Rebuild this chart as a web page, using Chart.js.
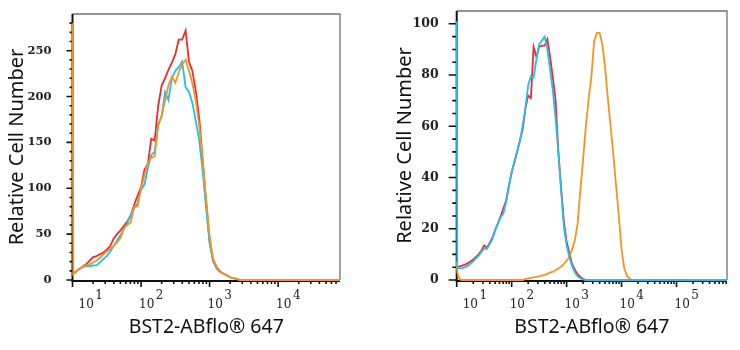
<!DOCTYPE html>
<html><head><meta charset="utf-8">
<script src="https://cdn.jsdelivr.net/npm/chart.js@4/dist/chart.umd.min.js"></script>
<style>
html,body{margin:0;padding:0;background:#fff;}
#wrap{position:relative;width:740px;height:350px;overflow:hidden;}
canvas{position:absolute;top:0;}
</style></head><body>
<div id="wrap">
<canvas id="leftChart" width="370" height="350" style="left:0"></canvas>
<canvas id="rightChart" width="370" height="350" style="left:370px"></canvas>
</div>
<script>
// ---------- DATA ----------
const xLeft = [10, 10.3, 11.2, 12.6, 14.1, 15.8, 17.8, 20, 22.4, 25.1, 28.2, 31.6, 35.5, 39.8, 44.7, 50.1, 56.2, 63.1, 70.8, 79.4, 89.1,
  100, 112, 126, 141, 158, 178, 200, 224, 251, 282, 316, 355, 398, 447, 501, 562, 631, 708, 794, 891,
  1000, 1122, 1259, 1413, 1585, 1778, 1995, 2239, 2512, 2818, 3162, 10000, 80000];
const leftRed = [6, 7, 9, 12, 15, 17, 21, 25, 26, 28, 30, 33, 37, 45, 50, 54, 59, 64, 70, 82, 92,
  101, 120, 127, 154, 152, 190, 212, 220, 229, 237, 246, 262, 262, 272, 238, 228, 205, 176, 130, 85,
  42, 21, 13, 9, 7, 5, 3, 2, 1, 0, 0, 0, 0];
const leftCyan = [6, 7, 9, 12, 14, 15, 15, 16, 16, 19, 23, 26, 31, 37, 43, 49, 56, 62, 71, 78, 84,
  98, 104, 122, 136, 140, 170, 178, 205, 196, 220, 228, 232, 238, 210, 205, 193, 173, 152, 118, 78,
  40, 22, 14, 10, 7, 5, 3, 2, 1, 0, 0, 0, 0];
const leftOrange = [280, 6, 9, 12, 15, 16, 17, 19, 21, 24, 28, 31, 34, 37, 41, 46, 56, 60, 63, 80, 80,
  100, 114, 128, 133, 135, 168, 180, 195, 212, 222, 215, 226, 235, 240, 228, 214, 195, 168, 130, 88,
  48, 24, 15, 10, 7, 5, 3, 2, 1, 0, 0, 0, 0];

const xRight = [10, 10.25, 11.2, 12.6, 14.1, 15.8, 17.8, 20, 22.4, 25.1, 28.2, 31.6, 35.5, 39.8, 44.7, 50.1, 56.2, 63.1, 70.8, 79.4, 89.1,
  100, 112, 126, 141, 158, 178, 200, 224, 251, 282, 316, 355, 398, 447, 501, 562, 631, 708, 794, 891,
  1000, 1122, 1259, 1413, 1585, 1778, 1995, 2239, 2512, 2818, 3162, 3548, 3981, 4467, 5012, 5623, 6310, 7079, 7943, 8913,
  10000, 11220, 12589, 14125, 15849, 17783, 19953, 100000, 830000];
const rightRed = [5, 5, 5.3, 5.6, 6, 6.5, 7.2, 8, 9, 10, 11.5, 13.5, 12.5, 14.5, 16.5, 19.5, 22, 25, 28, 31, 37,
  42, 46, 50, 54.5, 58.5, 67, 72, 71, 91, 87, 91, 91.5, 91.5, 94, 87, 79, 70, 50, 36, 23,
  15, 10.5, 6.3, 4, 2.3, 1.2, 0.5, 0, 0, 0, 0, 0, 0, 0, 0, 0, 0, 0, 0, 0,
  0, 0, 0, 0, 0, 0, 0, 0, 0];
const rightCyan = [101, 4.5, 4.5, 4.6, 5, 5.5, 6.3, 7.3, 8.5, 9.5, 11, 12.3, 12.2, 14, 16, 19.5, 22, 24.5, 26, 30.5, 36.5,
  42, 46, 50.5, 54, 60, 67, 76, 79.5, 79, 86, 92, 93.5, 95, 90, 82, 74, 63, 50, 35, 21,
  13.5, 9, 5.5, 3, 1.5, 0.6, 0.2, 0, 0, 0, 0, 0, 0, 0, 0, 0, 0, 0, 0, 0,
  0, 0, 0, 0, 0, 0, 0, 0, 0];
const rightOrange = [7, 3, 0.3, 0, 0, 0, 0, 0, 0, 0, 0, 0, 0, 0, 0, 0, 0, 0, 0, 0, 0,
  0, 0, 0, 0, 0, 0.3, 0.6, 0.8, 1.0, 1.2, 1.4, 1.7, 2.0, 2.4, 2.9, 3.3, 3.8, 4.5, 5.2, 6.2,
  7.5, 9, 12, 15.5, 22, 35, 47, 60, 70.5, 79, 93, 96.5, 96.5, 92, 83, 71, 60, 49, 37, 25,
  12, 4.5, 1.5, 0.5, 0, 0, 0, 0, 0];

const xTicksLeft = [10, 100, 1000, 10000];
const xExpLeft = ['1', '2', '3', '4'];
const yTicksLeft = [0, 50, 100, 150, 200, 250];
const xTicksRight = [10, 100, 1000, 10000, 100000];
const xExpRight = ['1', '2', '3', '4', '5'];
const yTicksRight = [0, 20, 40, 60, 80, 100];

const xTitle = 'BST2-ABflo\u00AE 647';
const yTitle = 'Relative Cell Number';

const RED = '#ef2a2f', CYAN = '#1fc0ee', ORANGE = '#f7941f';

// ---------- HELPERS ----------
function pts(xs, ys) { return xs.map((v, i) => ({x: v, y: ys[i]})); }

function minorLog(min, max) {
  const out = [];
  for (let d = 1; d <= 1e6; d *= 10) for (let m = 2; m <= 9; m++) { const v = m * d; if (v > min && v < max) out.push(v); }
  return out;
}
function minorLin(step, max, majors) {
  const out = [];
  for (let v = step; v < max - 0.001; v += step) if (!majors.includes(v)) out.push(v);
  return out;
}

const framePlugin = {
  id: 'frame',
  beforeDatasetsDraw(chart, args, o) {
    const {ctx, chartArea: a, scales: {x, y}} = chart;
    ctx.save();
    ctx.lineCap = 'butt';
    ctx.strokeStyle = '#707070'; ctx.lineWidth = 1.3;
    ctx.beginPath(); ctx.moveTo(a.left, a.top); ctx.lineTo(a.right, a.top); ctx.lineTo(a.right, a.bottom); ctx.stroke();
    ctx.strokeStyle = '#111'; ctx.lineWidth = 2;
    ctx.beginPath(); ctx.moveTo(a.left, a.top); ctx.lineTo(a.left, a.bottom + 1); ctx.lineTo(a.right, a.bottom + 1); ctx.stroke();
    ctx.lineWidth = 1.6;
    ctx.beginPath();
    o.xMajor.forEach(v => { const p = x.getPixelForValue(v); ctx.moveTo(p, a.bottom); ctx.lineTo(p, a.bottom + o.xMajLen); });
    o.xMinor.forEach(v => { const p = x.getPixelForValue(v); ctx.moveTo(p, a.bottom); ctx.lineTo(p, a.bottom + o.xMinLen); });
    o.yMajor.forEach(v => { const p = y.getPixelForValue(v); ctx.moveTo(a.left, p); ctx.lineTo(a.left - o.yMajLen, p); });
    o.yMinor.forEach(v => { const p = y.getPixelForValue(v); ctx.moveTo(a.left, p); ctx.lineTo(a.left - o.yMinLen, p); });
    ctx.stroke();
    // x tick labels: 10 with raised exponent
    ctx.fillStyle = '#222';
    ctx.font = '12px "DejaVu Serif"';
    ctx.textAlign = 'left'; ctx.textBaseline = 'alphabetic';
    o.xMajor.forEach((v, i) => {
      const p = x.getPixelForValue(v);
      const lx = Math.max(p - 2, a.left + 6);
      ctx.fillText('10', lx, a.bottom + 28);
      const w = ctx.measureText('10').width;
      ctx.fillText(o.xExp[i], lx + w + 1.5, a.bottom + 19);
    });
    ctx.restore();
  }
};

function makeChart(id, cfg) {
  return new Chart(document.getElementById(id), {
    type: 'line',
    data: {
      datasets: cfg.series.map(s => ({
        data: pts(cfg.xs, s.ys), borderColor: s.color, borderWidth: 1.8,
        pointRadius: 0, tension: 0, fill: false, clip: 4
      }))
    },
    options: {
      responsive: false, animation: false, devicePixelRatio: 1,
      layout: {padding: cfg.pad},
      plugins: {legend: {display: false}, tooltip: {enabled: false},
        frame: {xMajor: cfg.xTicks, xExp: cfg.xExp, xMinor: minorLog(cfg.xMin, cfg.xMax),
          yMajor: cfg.yTicks, yMinor: minorLin(cfg.yMinorStep, cfg.yMax, cfg.yTicks),
          xMajLen: 7, xMinLen: 4, yMajLen: cfg.yMajLen, yMinLen: cfg.yMinLen}},
      scales: {
        x: {type: 'logarithmic', min: cfg.xMin, max: cfg.xMax,
          grid: {display: false}, border: {display: false}, ticks: {display: false},
          title: {display: true, text: xTitle, color: '#111', font: {family: 'Noto Sans', size: 19.5}, padding: {top: 0, bottom: 11}},
          afterFit: s => { s.height = 70; s.paddingLeft = 0; s.paddingRight = 0; s.paddingTop = 0; s.paddingBottom = 0; }},
        y: {type: 'linear', min: 0, max: cfg.yMax,
          grid: {display: false}, border: {display: false},
          afterBuildTicks: s => { s.ticks = cfg.yTicks.map(v => ({value: v})); },
          ticks: {color: '#222', font: {family: 'DejaVu Serif', size: cfg.yFont, weight: 'bold'}, padding: cfg.yPad},
          title: {display: true, text: yTitle, color: '#111', font: {family: 'Noto Sans', size: 20}, padding: {top: cfg.yTitlePad, bottom: 0}},
          afterFit: s => { s.width = cfg.yWidth; s.paddingTop = 0; s.paddingBottom = 0; s.paddingLeft = 0; s.paddingRight = 0; }}
      }
    },
    plugins: [framePlugin]
  });
}

makeChart('leftChart', {
  xs: xLeft,
  series: [{ys: leftOrange, color: ORANGE}, {ys: leftCyan, color: CYAN}, {ys: leftRed, color: RED}],
  xMin: 10, xMax: 80000, yMax: 290, yMinorStep: 10,
  xTicks: xTicksLeft, xExp: xExpLeft, yTicks: yTicksLeft,
  pad: {top: 14, right: 30, bottom: 0, left: 0},
  yWidth: 72.5, yPad: 13, yFont: 11.5, yTitlePad: 5, yMajLen: 6, yMinLen: 3
});
makeChart('rightChart', {
  xs: xRight,
  series: [{ys: rightCyan, color: CYAN}, {ys: rightOrange, color: ORANGE}, {ys: rightRed, color: RED}],
  xMin: 10, xMax: 830000, yMax: 105, yMinorStep: 5,
  xTicks: xTicksRight, xExp: xExpRight, yTicks: yTicksRight,
  pad: {top: 11, right: 13, bottom: 0, left: 0},
  yWidth: 86.7, yPad: 10, yFont: 12.5, yTitlePad: 23, yMajLen: 8, yMinLen: 4.5
});
</script>
</body></html>
